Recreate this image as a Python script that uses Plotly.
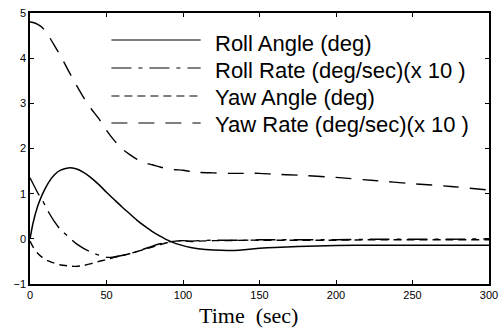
import plotly.graph_objects as go

# ---------------- data ----------------
time_s = [0, 2, 5, 8, 12, 16, 20, 25, 30, 35, 40, 45, 50, 55, 60, 65, 70, 75,
          80, 85, 90, 95, 100, 105, 110, 120, 130, 140, 150, 160, 175, 200,
          225, 250, 275, 300]

roll_angle = [0.0, 0.35, 0.72, 0.98, 1.24, 1.42, 1.52, 1.57, 1.55, 1.47, 1.35,
              1.2, 1.03, 0.87, 0.71, 0.56, 0.41, 0.28, 0.16, 0.06, -0.03,
              -0.1, -0.15, -0.19, -0.22, -0.25, -0.26, -0.24, -0.21, -0.19,
              -0.17, -0.15, -0.14, -0.14, -0.14, -0.14]

roll_rate_x10 = [1.35, 1.22, 1.02, 0.86, 0.6, 0.38, 0.2, 0.05, -0.1, -0.21,
                 -0.3, -0.36, -0.41, -0.4, -0.37, -0.33, -0.28, -0.22, -0.16,
                 -0.11, -0.07, -0.05, -0.04, -0.05, -0.04, -0.03, -0.03,
                 -0.03, -0.02, -0.02, -0.02, -0.02, -0.01, -0.01, -0.01, 0.0]

yaw_angle = [-0.05, -0.18, -0.32, -0.41, -0.49, -0.54, -0.58, -0.6, -0.61,
             -0.59, -0.55, -0.5, -0.46, -0.41, -0.37, -0.33, -0.28, -0.23,
             -0.18, -0.13, -0.08, -0.05, -0.04, -0.06, -0.05, -0.04, -0.04,
             -0.03, -0.03, -0.03, -0.03, -0.03, -0.02, -0.02, -0.02, -0.02]

yaw_rate_x10 = [4.8, 4.79, 4.75, 4.68, 4.5, 4.28, 4.05, 3.73, 3.42, 3.13,
                2.88, 2.66, 2.4, 2.18, 2.0, 1.87, 1.76, 1.68, 1.64, 1.59,
                1.55, 1.53, 1.52, 1.49, 1.47, 1.46, 1.45, 1.45, 1.45, 1.43,
                1.41, 1.36, 1.29, 1.22, 1.16, 1.08]

series_names = ["Roll Angle (deg)", "Roll Rate (deg/sec)(x 10 )",
                "Yaw Angle (deg)", "Yaw Rate (deg/sec)(x 10 )"]
series_values = [roll_angle, roll_rate_x10, yaw_angle, yaw_rate_x10]

x_ticks = [0, 50, 100, 150, 200, 250, 300]
y_ticks = [-1, 0, 1, 2, 3, 4, 5]

# ---------------- styles ----------------
dashes = ["solid", "20px,7px,4px,7px", "8px,5px", "16px,11px"]
widths = [1.5, 1.4, 1.4, 1.4]

fig = go.Figure()
for name, vals, dsh, w in zip(series_names, series_values, dashes, widths):
    fig.add_trace(go.Scatter(
        x=time_s, y=vals, mode="lines", name=name, showlegend=False,
        line=dict(color="black", width=w, dash=dsh, shape="spline", smoothing=0.6),
    ))

# manual legend (long sample lines as in the reference)
plot_l, plot_r, plot_t, plot_b = 30, 498, 13, 284
pw, ph = plot_r - plot_l, plot_b - plot_t

def px_x(p):
    return (p - plot_l) / pw

def px_y(p):
    return (plot_b - p) / ph

line_rows = [40, 68, 96, 123]
text_rows = [43, 70, 97, 125]
for i, name in enumerate(series_names):
    fig.add_shape(type="line", xref="paper", yref="paper",
                  x0=px_x(113), x1=px_x(204), y0=px_y(line_rows[i]), y1=px_y(line_rows[i]),
                  line=dict(color="black", width=1.2, dash=dashes[i]))
    fig.add_annotation(xref="paper", yref="paper", x=px_x(217), y=px_y(text_rows[i]),
                       xanchor="left", yanchor="middle", showarrow=False, text=name,
                       font=dict(family="Liberation Sans, Arial", size=22, color="black"))

fig.add_annotation(xref="paper", yref="paper", x=px_x(253), y=px_y(315),
                   xanchor="center", yanchor="middle", showarrow=False,
                   text="Time  (sec)",
                   font=dict(family="Liberation Serif, Times New Roman", size=22, color="black"))

axis_common = dict(showline=True, linecolor="black", linewidth=1.5, mirror="ticks",
                   ticks="inside", ticklen=4, tickwidth=1, tickcolor="black",
                   showgrid=False, zeroline=False, ticklabeloverflow="allow",
                   tickfont=dict(family="Liberation Sans, Arial", size=11, color="black"))

fig.update_xaxes(range=[0, 300], tickvals=x_ticks, **axis_common)
fig.update_yaxes(range=[-1, 5], tickvals=y_ticks, **axis_common)

fig.update_layout(width=504, height=328, margin=dict(l=plot_l, r=504 - plot_r, t=plot_t, b=328 - plot_b),
                  paper_bgcolor="white", plot_bgcolor="white")

fig.write_html("out.html", config={"displayModeBar": False},
               post_script="document.body.style.margin='0';document.body.style.overflow='hidden';")
